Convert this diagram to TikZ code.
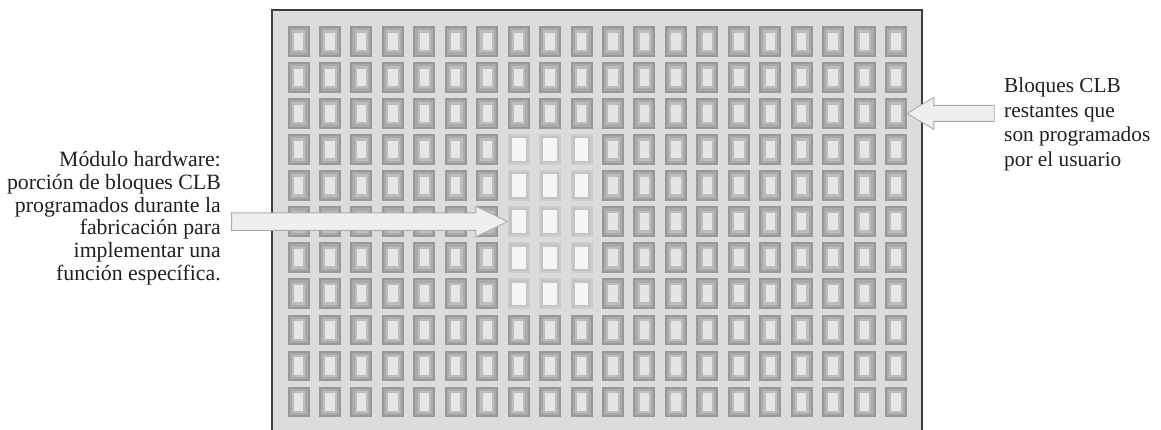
\documentclass[tikz,border=0pt]{standalone}
\usepackage{fontspec}
\setmainfont{Liberation Serif}
\definecolor{panelfill}{HTML}{DCDCDD}
\definecolor{panelline}{HTML}{3E3E3E}
\definecolor{ga}{HTML}{989898}
\definecolor{gb}{HTML}{AAAAAA}
\definecolor{gc}{HTML}{BDBDBD}
\definecolor{gd}{HTML}{E6E6E6}
\definecolor{ha}{HTML}{CDCDCD}
\definecolor{hb}{HTML}{C4C4C4}
\definecolor{hc}{HTML}{F4F5F5}
\definecolor{arrfill}{HTML}{EEF0F0}
\definecolor{arrline}{HTML}{ABABAB}
\definecolor{ink}{HTML}{231F20}
\tikzset{
  cellbox/.style={rectangle, inner sep=0pt, minimum width=22pt, minimum height=30.5pt, fill=#1},
  blockarrow/.style={fill=arrfill, draw=arrline, line width=0.9pt, line join=miter},
  lbl/.style={inner sep=0pt, text=ink}
}
\begin{document}
\begin{tikzpicture}[x=1pt,y=-1pt]
\useasboundingbox (0,0) rectangle (1161,429);
% panel
\path[fill=panelfill] (272,10) rectangle (922,440);
\draw[panelline, line width=1.6pt] (272,440) -- (272,10) -- (922,10) -- (922,440);
% cells
\foreach \r in {0,...,10}{
  \foreach \c in {0,...,19}{
    \pgfmathsetmacro\xx{298.5+\c*31.45}
    \pgfmathsetmacro\yy{41.25+\r*36.07}
    \pgfmathtruncatemacro\hl{(\c>6)&&(\c<10)&&(\r>2)&&(\r<8)}
    \ifnum\hl=1
      \node[cellbox=ha] (c-\r-\c) at (\xx,\yy) {};
      \fill[hb] ([shift={(2pt,-2pt)}]c-\r-\c.north west) rectangle ([shift={(-2pt,2pt)}]c-\r-\c.south east);
      \fill[hc] ([shift={(4.3pt,-4.3pt)}]c-\r-\c.north west) rectangle ([shift={(-4.3pt,4.3pt)}]c-\r-\c.south east);
    \else
      \node[cellbox=ga] (c-\r-\c) at (\xx,\yy) {};
      \fill[gb] ([shift={(2.2pt,-2.2pt)}]c-\r-\c.north west) rectangle ([shift={(-2.2pt,2.2pt)}]c-\r-\c.south east);
      \fill[gc] ([shift={(4.4pt,-4.4pt)}]c-\r-\c.north west) rectangle ([shift={(-4.4pt,4.4pt)}]c-\r-\c.south east);
      \fill[gd] ([shift={(6.5pt,-6.75pt)}]c-\r-\c.north west) rectangle ([shift={(-6.5pt,6.75pt)}]c-\r-\c.south east);
    \fi
  }
}
% texts
\node[lbl, anchor=north east, align=right, font=\fontsize{21.8}{22.7}\selectfont] (lefttext) at (221,151.5)
  {Módulo hardware:\\porción de bloques CLB\\programados durante la\\fabricación para\\implementar una\\función específica.};
\node[lbl, anchor=north west, align=left, font=\fontsize{21.3}{24.6}\selectfont] (righttext) at (1004,77.5)
  {Bloques CLB\\restantes que\\son programados\\por el usuario};
% arrows
\draw[blockarrow] (c-5-7.west) -- ++(-31.6,-15.3) -- ++(0,6.55) -- ++(-244.2,0) -- ++(0,17.5) -- ++(244.2,0) -- ++(0,6.55) -- cycle;
\draw[blockarrow] (c-2-19.east) -- ++(26.6,-16) -- ++(0,8) -- ++(60.4,0) -- ++(0,16) -- ++(-60.4,0) -- ++(0,8) -- cycle;
\end{tikzpicture}
\end{document}
